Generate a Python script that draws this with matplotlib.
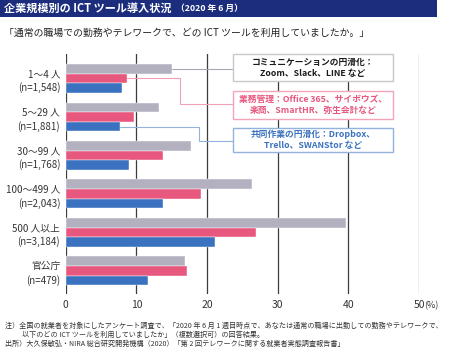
import numpy as np
import matplotlib
matplotlib.use('Agg')
from matplotlib import pyplot as plt
from matplotlib.patches import Rectangle

plt.rcParams['font.family'] = ['Noto Sans CJK JP', 'DejaVu Sans']

# data (%)
categories = ['1～4 人\n(n=1,548)', '5～29 人\n(n=1,881)', '30～99 人\n(n=1,768)',
              '100～499 人\n(n=2,043)', '500 人以上\n(n=3,184)', '官公庁\n(n=479)']
communication = [15.0, 13.2, 17.7, 26.4, 39.6, 16.9]
management = [8.7, 9.7, 13.7, 19.1, 26.9, 17.1]
collaboration = [7.9, 7.7, 8.9, 13.8, 21.1, 11.7]
xticks = [0, 10, 20, 30, 40, 50]

gray = '#b3b1bf'
pink = '#e8577e'
blue = '#3a72bf'
navy = '#1c2d7e'

W, H = 452, 360
fig = plt.figure(figsize=(W / 100, H / 100), dpi=100)

def fx(px):
    return px / W

def fy(py):
    return 1 - py / H

# title bar
fig.patches.append(Rectangle((0, fy(17)), fx(437), 17 / H, transform=fig.transFigure,
                             facecolor=navy, edgecolor='none'))
fig.text(fx(4), fy(8.5), '企業規模別の ICT ツール導入状況', color='white', fontsize=8,
         fontweight='bold', va='center', ha='left')
fig.text(fx(176), fy(8.8), '（2020 年 6 月）', color='white', fontsize=6.3,
         fontweight='bold', va='center', ha='left')
fig.text(fx(4), fy(33), '「通常の職場での勤務やテレワークで、どの ICT ツールを利用していましたか。」',
         fontsize=7.1, va='center', ha='left', color='#222222')

# axes
left, right, top, bottom = 65.7, 419, 54, 294
ax = fig.add_axes([fx(left), fy(bottom), fx(right - left), (bottom - top) / H])

y = np.arange(len(categories))
h = 0.25
ax.barh(y - h, communication, height=h, color=gray, edgecolor='white', linewidth=0.3, zorder=3)
ax.barh(y, management, height=h, color=pink, edgecolor='white', linewidth=0.3, zorder=3)
ax.barh(y + h, collaboration, height=h, color=blue, edgecolor='white', linewidth=0.3, zorder=3)

ax.set_xlim(0, 50)
ax.set_ylim(5.6, -0.635)
ax.set_yticks(y)
ax.set_yticklabels(categories, fontsize=7, linespacing=1.35, color='#333333')
ax.set_xticks(xticks)
ax.set_xticklabels([str(t) for t in xticks], fontsize=7.5, color='#333333')
ax.tick_params(length=0)
ax.tick_params(axis='y', pad=4)
ax.tick_params(axis='x', pad=4)
for s in ax.spines.values():
    s.set_visible(False)
for t in xticks:
    ax.axvline(t, color='#3c3c3c' if t < 50 else '#888888', linewidth=0.9, zorder=1)
ax.annotate('(%)', xy=(50, 0), xycoords=('data', 'axes fraction'), xytext=(4, -8.5),
            textcoords='offset points', fontsize=6.5, color='#333333', va='center', ha='left',
            annotation_clip=False)

# legend boxes with connectors
bx0, bx1 = 23.7, 46.3
boxes = [
    (-0.635, 0.066, '#c8c8cc', '#1a1a1a', 'コミュニケーションの円滑化：\nZoom、Slack、LINE など'),
    (0.326, 1.053, '#f2a5b8', pink, '業務管理：Office 365、サイボウズ、\n楽商、SmartHR、弥生会計など'),
    (1.287, 1.910, '#93b2dc', blue, '共同作業の円滑化：Dropbox、\nTrello、SWANStor など'),
]
for y0, y1, ec, tc, txt in boxes:
    ax.add_patch(Rectangle((bx0, y0), bx1 - bx0, y1 - y0, facecolor='white', edgecolor=ec,
                           linewidth=1.0, zorder=4, clip_on=False))
    ax.text((bx0 + bx1) / 2, (y0 + y1) / 2, txt, ha='center', va='center', fontsize=6.3,
            fontweight='bold', color=tc, linespacing=1.3, zorder=5)

ax.plot([communication[0], bx0], [-h, -h], color='#a9a7b5', linewidth=0.8, zorder=2)
ax.plot([management[0], 16.2, 16.2, bx0], [0, 0, 0.672, 0.672], color='#f2a0b4',
        linewidth=0.8, zorder=2)
ax.plot([collaboration[1], 18.85, 18.85, bx0], [1 + h, 1 + h, 1.62, 1.62], color='#93b2dc',
        linewidth=0.8, zorder=2)

# footnotes
notes = [
    (5, 326, '注）全国の就業者を対象にしたアンケート調査で、「2020 年 6 月 1 週目時点で、あなたは通常の職場に出勤しての勤務やテレワークで、'),
    (22, 335, '以下のどの ICT ツールを利用していましたか」（複数選択可）の回答結果。'),
    (5, 343.5, '出所）大久保敏弘・NIRA 総合研究開発機構（2020）「第 2 回テレワークに関する就業者実態調査報告書」'),
]
for x0, y0, txt in notes:
    fig.text(fx(x0), fy(y0), txt, fontsize=5.1, va='center', ha='left', color='#333333')

fig.savefig('out.png', dpi=100)
